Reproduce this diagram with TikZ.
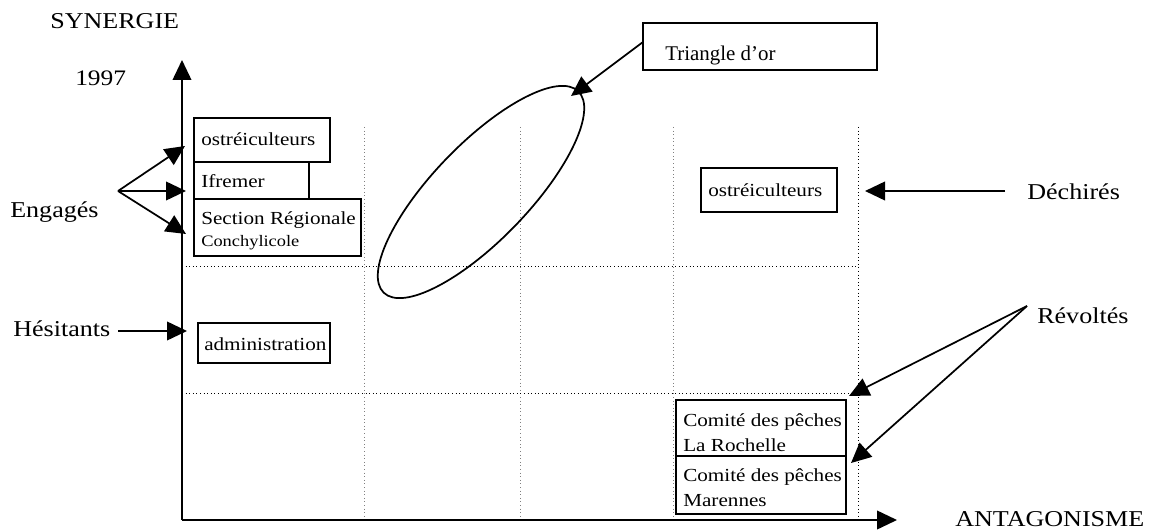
\documentclass[tikz,border=0pt]{standalone}
\usepackage{fontspec}
\setmainfont{Liberation Serif}[FakeStretch=1.15]
\newfontfamily\plainserif{Liberation Serif}
\usetikzlibrary{arrows.meta,shapes.geometric}
\begin{document}
\begin{tikzpicture}[x=0.75pt,y=-0.75pt,
  big/.style={inner sep=0pt, anchor=base west, font=\fontsize{17}{20}\selectfont},
  txt/.style={inner sep=0pt, anchor=base west, font=\fontsize{13.8}{16}\selectfont},
  small/.style={inner sep=0pt, anchor=base west, font=\fontsize{12}{14}\selectfont},
  boxx/.style={draw, fill=white, line width=1.3pt, inner sep=0pt, rectangle},
  arr/.style={line width=1.3pt, -{Triangle[length=15pt,width=14pt]}},
  gridg/.style={dotted, gray, line width=0.7pt},
  gridk/.style={dotted, black, line width=0.7pt},
]
\useasboundingbox (0,0) rectangle (1155,531);

% grid
\draw[gridg] (364,127) -- (364,520);
\draw[gridg] (520,127) -- (520,520);
\draw[gridg] (673,127) -- (673,520);
\draw[gridk] (858,127) -- (858,520);
\draw[gridk] (182,266) -- (858,266);
\draw[gridk] (182,393) -- (858,393);

% axes
\coordinate (orig) at (182,520);
\coordinate (ytip) at (182,60);
\coordinate (xtip) at (897,520);
\draw[arr] (orig) -- (ytip);
\draw[arr] (orig) -- (xtip);

% axis labels
\node[big] (syn) at (50,29) {SYNERGIE};
\node[big, font=\fontsize{16.6}{20}\selectfont] (yr) at (75,86) {1997};
\node[big] (ant) at (955,526) {ANTAGONISME};

% boxes
\node[boxx, minimum width=102pt, minimum height=33pt] (ost1box) at (262,140) {};
\node[boxx, minimum width=86.25pt, minimum height=27.75pt] (ifrbox) at (251.5,180.5) {};
\node[boxx, minimum width=125.25pt, minimum height=42.75pt] (secbox) at (277.5,227.5) {};
\node[boxx, minimum width=99pt, minimum height=30pt] (admbox) at (264,343) {};
\node[boxx, minimum width=175.5pt, minimum height=35.25pt] (tribox) at (760,46.5) {};
\node[boxx, minimum width=102pt, minimum height=33pt] (ost2box) at (769,190) {};
\node[boxx, minimum width=127.5pt, minimum height=42pt] (crbox) at (761,428) {};
\node[boxx, minimum width=127.5pt, minimum height=43.5pt] (cmbox) at (761,485) {};

% box texts
\node[txt] (ost1) at (201,145.7) {ostréiculteurs};
\node[txt] (ifr) at (201,187.7) {Ifremer};
\node[txt] (sec1) at (201,224.3) {Section Régionale};
\node[small] (sec2) at (201,246.7) {Conchylicole};
\node[txt] (adm) at (204,350.7) {administration};
\node[inner sep=0pt, anchor=base west, font=\plainserif\fontsize{15.7}{18}\selectfont] (tri) at (665,60.7) {Triangle d’or};
\node[txt] (ost2) at (708,196) {ostréiculteurs};
\node[txt] (cr1) at (683,426.7) {Comité des pêches};
\node[txt] (cr2) at (683,451.7) {La Rochelle};
\node[txt] (cm1) at (683,481.7) {Comité des pêches};
\node[txt] (cm2) at (683,506.7) {Marennes};

% ellipse
\node[draw, ellipse, line width=1.3pt, minimum width=210pt, minimum height=72pt, inner sep=0pt, rotate=46] (ell) at (481,192) {};
\coordinate (trip) at (571,96);
\coordinate (tris) at (643,42);
\draw[arr] (tris) -- (trip);

% side labels
\node[big] (eng) at (10,217) {Engagés};
\node[big] (hes) at (13,336) {Hésitants};
\node[big] (dech) at (1027,199) {Déchirés};
\node[big] (rev) at (1037,323) {Révoltés};

% Engagés arrows
\coordinate (engp) at (118,191);
\coordinate (e1) at (185,146);
\coordinate (e2) at (186,191);
\coordinate (e3) at (186,234);
\draw[arr] (engp) -- (e1);
\draw[arr] (engp) -- (e2);
\draw[arr] (engp) -- (e3);

% Hésitants arrow
\coordinate (hesp) at (118,331);
\coordinate (h1) at (187,331);
\draw[arr] (hesp) -- (h1);

% Déchirés arrow
\coordinate (dechp) at (1005,191);
\coordinate (d1) at (865,191);
\draw[arr] (dechp) -- (d1);

% Révoltés arrows
\coordinate (revp) at (1027,306);
\coordinate (r1) at (849,396);
\coordinate (r2) at (851,463);
\draw[arr] (revp) -- (r1);
\draw[arr] (revp) -- (r2);
\end{tikzpicture}
\end{document}
